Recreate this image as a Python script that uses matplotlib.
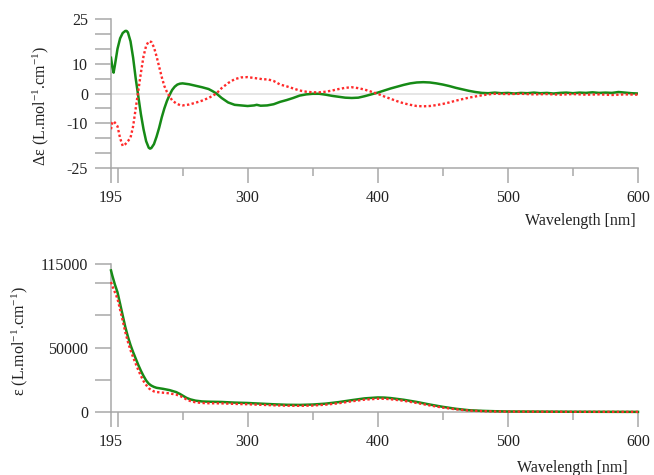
import matplotlib
matplotlib.use("Agg")
import matplotlib.pyplot as plt
import numpy as np

plt.rcParams["font.family"] = ["Liberation Serif", "DejaVu Serif"]
plt.rcParams["mathtext.fontset"] = "custom"
plt.rcParams["mathtext.rm"] = "Liberation Serif"
plt.rcParams["mathtext.it"] = "Liberation Serif:italic"

GREEN = "#168a16"
RED = "#ff2a2a"
AXIS_GRAY = "#a8a8a8"

# CD spectrum, green (solid)
cd_green_wl = [195, 196, 197, 198, 200, 202, 204, 206, 207, 208, 210, 212, 214, 216,
               218, 220, 222, 224, 225, 226, 228, 230, 232, 234, 236, 238, 240, 242,
               244, 246, 248, 250, 255, 260, 265, 270, 273, 276, 280, 285, 290, 295,
               300, 305, 307, 310, 315, 320, 325, 330, 335, 340, 345, 350, 355, 360,
               365, 370, 375, 380, 385, 390, 395, 400, 405, 410, 415, 420, 425, 430,
               435, 440, 445, 450, 455, 460, 465, 470, 475, 480, 485, 490, 495, 500,
               505, 510, 515, 520, 525, 530, 535, 540, 545, 550, 555, 560, 565, 570,
               575, 580, 585, 590, 595, 600]
cd_green = [12.0, 9.0, 7.0, 9.5, 15.0, 18.5, 20.3, 21.0, 21.0, 20.5, 17.5, 12.0, 5.0, -1.0,
            -7.0, -12.0, -16.0, -18.2, -18.5, -18.3, -17.0, -14.5, -11.5, -8.0, -5.0, -2.5, -0.5, 1.2,
            2.3, 3.0, 3.3, 3.4, 3.1, 2.6, 2.1, 1.5, 0.8, 0.0, -1.5, -3.0, -3.8, -4.0,
            -4.2, -4.0, -3.8, -4.1, -4.0, -3.6, -2.8, -2.2, -1.5, -0.7, -0.3, -0.1, -0.1, -0.4,
            -0.8, -1.1, -1.4, -1.5, -1.4, -0.9, -0.3, 0.3, 1.0, 1.7, 2.3, 2.9, 3.4, 3.7,
            3.8, 3.7, 3.4, 3.0, 2.5, 1.9, 1.4, 0.9, 0.5, 0.2, 0.1, 0.3, 0.1, 0.2,
            0.0, 0.2, 0.1, 0.3, 0.1, 0.2, 0.0, 0.2, 0.3, 0.1, 0.3, 0.2, 0.4, 0.2,
            0.3, 0.2, 0.5, 0.3, 0.1, 0.0]

# CD spectrum, red (dotted)
cd_red_wl = [195, 196, 197, 198, 200, 202, 204, 206, 208, 210, 212, 214, 216, 218,
             220, 222, 224, 226, 228, 230, 232, 234, 236, 238, 240, 242, 245, 248,
             250, 255, 260, 265, 270, 273, 276, 280, 285, 290, 295, 300, 305, 310,
             312, 315, 320, 325, 330, 335, 340, 345, 350, 355, 360, 365, 370, 375,
             380, 385, 390, 395, 400, 405, 410, 415, 420, 425, 430, 435, 440, 445,
             450, 455, 460, 465, 470, 475, 480, 485, 490, 500, 510, 520, 530, 540,
             550, 560, 570, 580, 590, 600]
cd_red = [-12.0, -9.8, -9.3, -9.8, -11.0, -15.0, -17.6, -17.0, -16.0, -14.8, -11.0, -5.0, 1.0, 7.0,
          12.5, 16.0, 17.5, 17.3, 15.5, 12.5, 9.0, 5.5, 2.5, 0.5, -1.0, -2.3, -3.3, -3.9,
          -4.0, -3.7, -3.1, -2.4, -1.5, -0.8, 0.0, 1.8, 3.5, 4.8, 5.4, 5.5, 5.2, 4.9,
          4.7, 4.8, 4.2, 3.0, 2.4, 1.7, 1.0, 0.6, 0.4, 0.4, 0.6, 1.0, 1.5, 1.9,
          2.1, 1.8, 1.3, 0.6, -0.1, -1.0, -1.8, -2.6, -3.3, -3.8, -4.2, -4.3, -4.2, -3.9,
          -3.5, -3.0, -2.4, -1.9, -1.4, -1.0, -0.6, -0.3, -0.1, -0.2, -0.1, -0.3, -0.2, -0.4,
          -0.2, -0.4, -0.3, -0.5, -0.3, -0.4]

# UV spectrum, green (solid)
uv_green_wl = [195, 196, 198, 200, 202, 204, 206, 208, 210, 212, 214, 216, 218, 220,
               222, 224, 226, 228, 230, 235, 240, 245, 248, 250, 253, 256, 260, 265,
               270, 280, 290, 300, 310, 320, 330, 340, 350, 360, 370, 380, 390, 400,
               405, 410, 420, 430, 440, 450, 460, 470, 480, 490, 500, 550, 600]
uv_green = [110000, 106000, 99000, 93000, 84000, 75000, 66000, 58500, 52000, 46500, 41500, 36500, 32000, 28000,
            24500, 22000, 20500, 19500, 18800, 18000, 17000, 15500, 14000, 12800, 11000, 9800, 8800, 8200,
            8000, 7800, 7300, 7000, 6500, 6000, 5600, 5500, 5800, 6500, 7700, 9200, 10600, 11300,
            11200, 10800, 9500, 7800, 5800, 4000, 2500, 1400, 900, 600, 400, 200, 100]

# UV spectrum, red (dotted)
uv_red_wl = uv_green_wl
uv_red = [101000, 98000, 93000, 88000, 79500, 71000, 62000, 54500, 48000, 42500, 37500, 32500, 28000, 24000,
          21000, 18500, 17000, 16000, 15500, 15000, 14500, 13500, 12500, 11500, 9800, 8500, 7500, 7000,
          6800, 6700, 6300, 6000, 5600, 5200, 4900, 4800, 5000, 5700, 6800, 8300, 9600, 10300,
          10300, 9900, 8700, 7000, 5100, 3400, 2100, 1100, 700, 400, 300, 150, 100]

x_major = [195, 200, 300, 400, 500, 600]
x_major_labels = ["195", "", "300", "400", "500", "600"]
x_minor = [250, 350, 450, 550]

cd_ticks = np.arange(-25, 26, 5)
cd_labeled = {25: "25", 10: "10", 0: "0", -10: "-10", -25: "-25"}
uv_ticks = [0, 25000, 50000, 75000, 100000, 115000]
uv_labeled = {0: "0", 50000: "50000", 115000: "115000"}


def style_axes(ax):
    for side in ("top", "right"):
        ax.spines[side].set_visible(False)
    for side in ("left", "bottom"):
        ax.spines[side].set_color(AXIS_GRAY)
        ax.spines[side].set_linewidth(1.1)
    ax.set_xlim(195, 600)
    ax.set_xticks(x_major)
    ax.set_xticklabels(x_major_labels)
    ax.set_xticks(x_minor, minor=True)
    ax.tick_params(axis="x", which="major", length=10.8, width=1.1, color=AXIS_GRAY,
                   pad=5, labelsize=11.5, labelcolor="#222222")
    ax.tick_params(axis="x", which="minor", length=6, width=1.1, color=AXIS_GRAY)
    ax.tick_params(axis="y", which="major", length=11.5, width=1.1, color=AXIS_GRAY,
                   pad=5, labelsize=11.5, labelcolor="#222222")


fig = plt.figure(figsize=(6.54, 4.75), dpi=100)
ax1 = fig.add_axes([111 / 654, 1 - 168 / 475, 527 / 654, 149 / 475])
ax2 = fig.add_axes([111 / 654, 1 - 412 / 475, 527 / 654, 148 / 475])

# CD panel
ax1.axhline(0, color="#e2e2e2", lw=1.2, zorder=0)
ax1.plot(cd_green_wl, cd_green, color=GREEN, lw=1.8, zorder=3)
ax1.plot(cd_red_wl, cd_red, color=RED, lw=1.7, ls=(0, (1, 1)), zorder=4)
ax1.set_ylim(-25, 25)
ax1.set_yticks(cd_ticks)
ax1.set_yticklabels([cd_labeled.get(int(t), "") for t in cd_ticks])
style_axes(ax1)
ax1.set_ylabel(r"Δε (L.mol$^{-1}$.cm$^{-1}$)", fontsize=11.5, color="#222222")
ax1.yaxis.set_label_coords(-0.114, 0.416)
ax1.set_xlabel("Wavelength [nm]", fontsize=11.5, color="#222222", loc="right")
ax1.xaxis.set_label_coords(0.995, -0.30)
ax1.xaxis.label.set_va("top")

# UV panel
ax2.plot(uv_green_wl, uv_green, color=GREEN, lw=1.8, zorder=3, clip_on=False)
ax2.plot(uv_red_wl, uv_red, color=RED, lw=1.7, ls=(0, (1, 1)), zorder=4, clip_on=False)
ax2.set_ylim(0, 115000)
ax2.set_yticks(uv_ticks)
ax2.set_yticklabels([uv_labeled.get(t, "") for t in uv_ticks])
style_axes(ax2)
ax2.set_ylabel(r"ε (L.mol$^{-1}$.cm$^{-1}$)", fontsize=11.5, color="#222222")
ax2.yaxis.set_label_coords(-0.154, 0.48)
ax2.set_xlabel("Wavelength [nm]", fontsize=11.5, color="#222222", loc="right")
ax2.xaxis.set_label_coords(0.981, -0.324)
ax2.xaxis.label.set_va("top")

fig.savefig("out.png", dpi=100)
